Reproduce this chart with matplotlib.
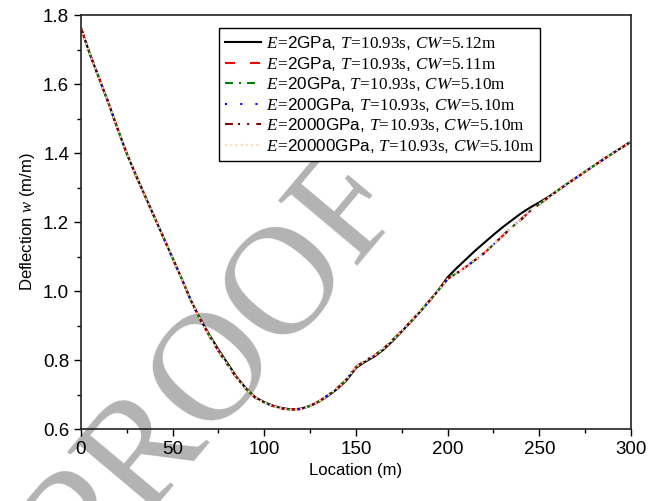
import matplotlib
matplotlib.use("Agg")
import matplotlib.pyplot as plt
import numpy as np

plt.rcParams["font.family"] = ["Liberation Sans", "DejaVu Sans"]
plt.rcParams["mathtext.fontset"] = "custom"
plt.rcParams["mathtext.rm"] = "Liberation Serif"
plt.rcParams["mathtext.it"] = "Liberation Serif:italic"

# location along the ice sheet (m)
loc = np.arange(0, 305, 5)

# deflection for the softest case (CW = 5.12 m)
defl_cw512 = [1.762, 1.685, 1.615, 1.545, 1.470, 1.398, 1.335, 1.275, 1.215, 1.155,
              1.095, 1.035, 0.972, 0.920, 0.873, 0.830, 0.790, 0.750, 0.718, 0.692,
              0.678, 0.667, 0.660, 0.657, 0.659, 0.667, 0.680, 0.697, 0.717, 0.742,
              0.777, 0.795, 0.810, 0.830, 0.855, 0.883, 0.911, 0.940, 0.971, 1.003,
              1.040, 1.067, 1.092, 1.117, 1.140, 1.163, 1.185, 1.205, 1.225, 1.242,
              1.257, 1.273, 1.291, 1.310, 1.328, 1.346, 1.364, 1.382, 1.399, 1.416,
              1.433]

# deflection for the stiffer cases (CW = 5.11 / 5.10 m) - almost identical
defl_cw510 = [1.762, 1.685, 1.615, 1.545, 1.470, 1.398, 1.335, 1.275, 1.215, 1.155,
              1.095, 1.035, 0.972, 0.918, 0.870, 0.826, 0.786, 0.748, 0.716, 0.691,
              0.677, 0.666, 0.659, 0.656, 0.658, 0.667, 0.681, 0.699, 0.719, 0.745,
              0.780, 0.798, 0.813, 0.833, 0.858, 0.885, 0.912, 0.941, 0.971, 1.002,
              1.035, 1.052, 1.070, 1.090, 1.110, 1.135, 1.160, 1.185, 1.207, 1.232,
              1.252, 1.271, 1.291, 1.310, 1.328, 1.346, 1.364, 1.382, 1.399, 1.416,
              1.433]

moduli = ["2", "2", "20", "200", "2000", "20000"]
crack_width = ["5.12", "5.11", "5.10", "5.10", "5.10", "5.10"]
period = "10.93"

series = [defl_cw512, defl_cw510, defl_cw510, defl_cw510, defl_cw510, defl_cw510]
colors = ["black", "#FF0000", "#008000", "#0000FF", "#800000", "#FFDAB9"]
styles = ["-", (0, (4.8, 7.2)), (0, (3.8, 2.9, 1, 2.9)), (0, (1, 6.3)),
          (0, (3.8, 2.4, 1, 3.4, 1, 3.4)), (0, (1, 1.5))]

fig = plt.figure(figsize=(6.61, 5.01), dpi=100)
ax = fig.add_axes([0.1225, 0.1437, 0.8321, 0.8263])
ax.set_facecolor("none")

# watermark sits behind the axes content
fig.text(0.331, 0.267, "PROOF", fontsize=112, family="Liberation Serif",
         color="#b3b3b3", rotation=50, ha="center", va="center", zorder=-1)

for i, y in enumerate(series):
    lbl = (r"$E\!=\!$" + moduli[i] + "GPa, "
           + r"$T\!=\!\mathrm{" + period + r"s}$, "
           + r"$CW\!=\!\mathrm{" + crack_width[i] + r"m}$")
    ax.plot(loc, y, color=colors[i], linestyle=styles[i], linewidth=1.5, label=lbl)

ax.set_xlim(0, 300)
ax.set_ylim(0.6, 1.8)
ax.set_xticks(np.arange(0, 301, 50))
ax.set_xticks(np.arange(25, 300, 50), minor=True)
ax.set_yticks(np.arange(0.6, 1.81, 0.2))
ax.set_yticks(np.arange(0.7, 1.8, 0.2), minor=True)
ax.yaxis.set_major_formatter(matplotlib.ticker.FormatStrFormatter("%.1f"))
ax.tick_params(which="major", direction="out", length=5, width=1, labelsize=13.5)
ax.tick_params(which="minor", direction="out", length=3, width=1)
for s in ax.spines.values():
    s.set_linewidth(1.2)
    s.set_color("#222222")

ax.set_xlabel("Location (m)", fontsize=12)
ax.set_ylabel(r"Deflection $w$ (m/m)", fontsize=12)

leg = ax.legend(loc="upper left", bbox_to_anchor=(0.331, 0.944),
                bbox_transform=fig.transFigure, fontsize=12.3, frameon=True,
                fancybox=False, edgecolor="black", framealpha=1,
                handlelength=2.1, handletextpad=0.3, labelspacing=0.15,
                borderpad=0.35, borderaxespad=0)
leg.get_frame().set_linewidth(1.0)

fig.savefig("out.png", dpi=100)
